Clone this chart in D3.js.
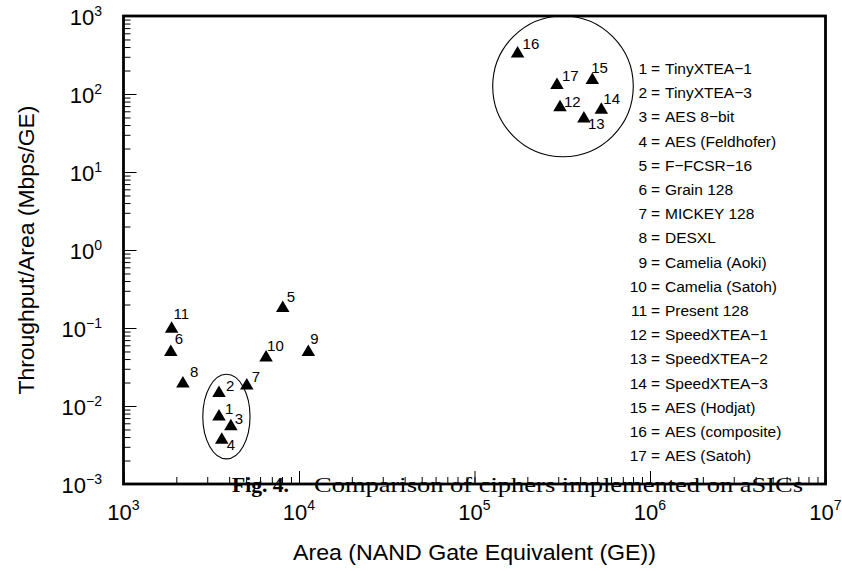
<!DOCTYPE html>
<html>
<head>
<meta charset="utf-8">
<script src="https://cdn.jsdelivr.net/npm/d3@7/dist/d3.min.js"></script>
<style>
  body { margin: 0; background: #fff; }
  svg { display: block; font-family: "Liberation Sans", Arial, Helvetica, sans-serif; }
</style>
</head>
<body>
<svg id="chart" width="842" height="571"></svg>
<script>
// cipher implementations
const cipherIds = [1, 2, 3, 4, 5, 6, 7, 8, 9, 10, 11, 12, 13, 14, 15, 16, 17];
const cipherNames = [
  "TinyXTEA\u22121", "TinyXTEA\u22123", "AES 8\u2212bit", "AES (Feldhofer)",
  "F\u2212FCSR\u221216", "Grain 128", "MICKEY 128", "DESXL", "Camelia (Aoki)",
  "Camelia (Satoh)", "Present 128", "SpeedXTEA\u22121", "SpeedXTEA\u22122",
  "SpeedXTEA\u22123", "AES (Hodjat)", "AES (composite)", "AES (Satoh)"
];
const areaGE = [3500, 3500, 4090, 3630, 8080, 1860, 5040, 2180, 11300, 6490,
  1880, 307000, 420000, 528000, 469000, 176000, 295000];
const throughputPerArea = [0.0077, 0.0154, 0.0058, 0.0039, 0.19, 0.052, 0.0193,
  0.0205, 0.052, 0.044, 0.103, 71, 51, 66, 159, 348, 137];

// axis limits and major ticks
const xDomain = [1e3, 1e7];
const yDomain = [1e-3, 1e3];
const xMajorTicks = [1e3, 1e4, 1e5, 1e6, 1e7];
const yMajorTicks = [1e-3, 1e-2, 1e-1, 1e0, 1e1, 1e2, 1e3];

// grouping ellipses (bounds in data units)
const lowGroupX = [2830, 5260];
const lowGroupY = [0.0021, 0.0255];
const highGroupX = [127000, 803000];
const highGroupY = [15.7, 1000];

const svg = d3.select("#chart");
const plotLeft = 123.5, plotRight = 825.5, plotTop = 16, plotBottom = 484;

const x = d3.scaleLog().domain(xDomain).range([plotLeft, plotRight]);
const y = d3.scaleLog().domain(yDomain).range([plotBottom, plotTop]);

// label offsets (px) next to each marker
const labelOffset = {
  1: [6, -1], 2: [7, 0], 3: [4, 0], 4: [5, 12], 5: [4, -4], 6: [4, -6],
  7: [5, -2], 8: [7, -5], 9: [2, -6], 10: [1, -5], 11: [2, -8], 12: [4, 1],
  13: [4, 12], 14: [2, -4], 15: [-1, -5], 16: [5, -3], 17: [5, -2]
};

const expLabel = d => String(Math.round(Math.log10(d))).replace("-", "\u2212");

// minor ticks
svg.append("g")
  .attr("transform", "translate(0," + plotBottom + ")")
  .call(d3.axisBottom(x).tickValues(x.ticks()).tickSize(-7).tickFormat(""))
  .call(g => g.select(".domain").remove());
svg.append("g")
  .attr("transform", "translate(" + plotLeft + ",0)")
  .call(d3.axisLeft(y).tickValues(y.ticks()).tickSize(-7).tickFormat(""))
  .call(g => g.select(".domain").remove());

// major ticks
svg.append("g")
  .attr("transform", "translate(0," + plotBottom + ")")
  .call(d3.axisBottom(x).tickValues(xMajorTicks).tickSize(-13).tickFormat(""))
  .call(g => g.select(".domain").remove());
svg.append("g")
  .attr("transform", "translate(" + plotLeft + ",0)")
  .call(d3.axisLeft(y).tickValues(yMajorTicks).tickSize(-13).tickFormat(""))
  .call(g => g.select(".domain").remove());

svg.selectAll(".tick line").attr("stroke", "#000").attr("stroke-width", 1);

// tick labels 10^n
const xLabels = svg.append("g")
  .selectAll("text")
  .data(xMajorTicks)
  .join("text")
  .attr("x", d => x(d))
  .attr("y", plotBottom + 36)
  .attr("text-anchor", "middle")
  .attr("font-size", 22);
xLabels.append("tspan").text("10");
xLabels.append("tspan").attr("dy", -10).attr("font-size", 14).text(d => expLabel(d));

const yLabels = svg.append("g")
  .selectAll("text")
  .data(yMajorTicks)
  .join("text")
  .attr("x", 102)
  .attr("y", d => y(d) + 9)
  .attr("text-anchor", "end")
  .attr("font-size", 22);
yLabels.append("tspan").text("10");
yLabels.append("tspan").attr("dy", -9).attr("font-size", 14).text(d => expLabel(d));

// frame
svg.append("rect")
  .attr("x", plotLeft)
  .attr("y", plotTop)
  .attr("width", plotRight - plotLeft)
  .attr("height", plotBottom - plotTop)
  .attr("fill", "none")
  .attr("stroke", "#000")
  .attr("stroke-width", 2.8);

// group ellipses
[[lowGroupX, lowGroupY], [highGroupX, highGroupY]].forEach(([gx, gy]) => {
  svg.append("ellipse")
    .attr("cx", (x(gx[0]) + x(gx[1])) / 2)
    .attr("cy", (y(gy[0]) + y(gy[1])) / 2)
    .attr("rx", (x(gx[1]) - x(gx[0])) / 2)
    .attr("ry", (y(gy[0]) - y(gy[1])) / 2)
    .attr("fill", "none")
    .attr("stroke", "#000")
    .attr("stroke-width", 1.1);
});

// markers
const points = cipherIds.map((id, i) => ({ id: id, area: areaGE[i], tpa: throughputPerArea[i] }));
const tw = 13.5, th = 11.5;
svg.append("g")
  .selectAll("path")
  .data(points)
  .join("path")
  .attr("transform", d => "translate(" + x(d.area) + "," + y(d.tpa) + ")")
  .attr("d", "M0," + (-th / 2) + "L" + (tw / 2) + "," + (th / 2) + "L" + (-tw / 2) + "," + (th / 2) + "Z")
  .attr("fill", "#000");

svg.append("g")
  .selectAll("text")
  .data(points)
  .join("text")
  .attr("x", d => x(d.area) + labelOffset[d.id][0])
  .attr("y", d => y(d.tpa) + labelOffset[d.id][1])
  .attr("font-size", 15)
  .text(d => d.id);

// legend
const legend = svg.append("g")
  .selectAll("g")
  .data(cipherIds)
  .join("g")
  .attr("transform", (d, i) => "translate(0," + (74 + i * 24.2) + ")")
  .attr("font-size", 15.5);
legend.append("text").attr("x", 647).attr("text-anchor", "end").text(d => d);
legend.append("text").attr("x", 651).text("=");
legend.append("text").attr("x", 665).text((d, i) => cipherNames[i]);

// axis titles
svg.append("text")
  .attr("x", (plotLeft + plotRight) / 2)
  .attr("y", 560)
  .attr("text-anchor", "middle")
  .attr("font-size", 22)
  .attr("textLength", 363)
  .attr("lengthAdjust", "spacingAndGlyphs")
  .text("Area (NAND Gate Equivalent (GE))");

svg.append("text")
  .attr("transform", "translate(34," + (plotTop + plotBottom) / 2 + ") rotate(-90)")
  .attr("text-anchor", "middle")
  .attr("font-size", 22)
  .attr("textLength", 289)
  .attr("lengthAdjust", "spacingAndGlyphs")
  .text("Throughput/Area (Mbps/GE)");

// figure caption overlapping the axis
const caption = svg.append("g")
  .attr("font-family", "'Liberation Serif', 'DejaVu Serif', serif")
  .attr("font-size", 22);
caption.append("text")
  .attr("x", 232)
  .attr("y", 491.5)
  .attr("font-weight", "bold")
  .attr("textLength", 57)
  .attr("lengthAdjust", "spacingAndGlyphs")
  .text("Fig. 4.");
caption.append("text")
  .attr("x", 314)
  .attr("y", 491.5)
  .attr("textLength", 489)
  .attr("lengthAdjust", "spacingAndGlyphs")
  .text("Comparison of ciphers implemented on aSICs");
</script>
</body>
</html>
